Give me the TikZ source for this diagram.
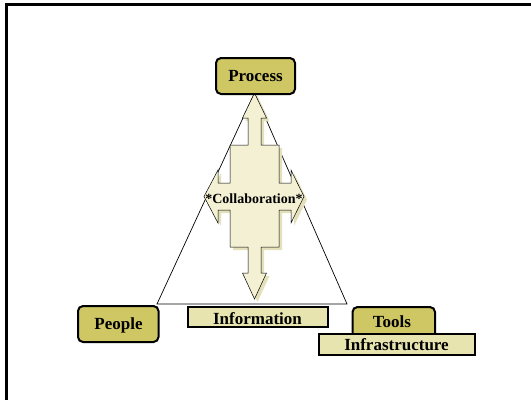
\documentclass[tikz,border=0pt]{standalone}
\usepackage{fontspec}
\setmainfont{Liberation Serif}
\begin{document}
\definecolor{olive}{RGB}{206,199,100}
\definecolor{paleolive}{RGB}{232,228,176}
\definecolor{cream}{RGB}{243,240,212}
\definecolor{creamshade}{RGB}{228,224,186}
\begin{tikzpicture}[x=1pt,y=-1pt,
  label/.style={font=\fontsize{17}{20}\selectfont\bfseries, inner sep=0pt},
  roundbox/.style={draw=black, line width=2pt, fill=olive, rounded corners=5pt},
  flatbox/.style={draw=black, line width=2pt, fill=paleolive},
  frameline/.style={line width=2.5pt, black},
  edge/.style={black, line width=0.7pt}]
\useasboundingbox (0,0) rectangle (531,400);

% outer frame (top and left rules)
\draw[frameline] (5,4.5) -- (531,4.5);
\draw[frameline] (6.5,3.5) -- (6.5,400);

% triangle corners
\coordinate (apex) at (254.5,93);
\coordinate (left) at (157,304);
\coordinate (right) at (347,304);
\draw[edge] (apex) -- (left) -- (right) -- cycle;

% four-way collaboration arrow
\def\crosspath{(254.5,93) -- (266.5,118) -- (261,118) -- (261,145) -- (279,145)
  -- (279,183) -- (291,183) -- (291,170) -- (304,196.5) -- (291,223) -- (291,210)
  -- (279,210) -- (279,247) -- (261,247) -- (261,273) -- (266.5,273) -- (254.5,299)
  -- (242.5,273) -- (248,273) -- (248,247) -- (230,247) -- (230,210) -- (218,210)
  -- (218,223) -- (204,196.5) -- (218,170) -- (218,183) -- (230,183) -- (230,145)
  -- (248,145) -- (248,118) -- (242.5,118) -- cycle}
\fill[creamshade, shift={(3,3)}] \crosspath;
\filldraw[fill=cream, draw=black, line width=0.5pt] \crosspath;
\node[font=\fontsize{14}{16}\selectfont\bfseries, inner sep=0pt] (collab) at (254,199) {*Collaboration*};

% labelled boxes
\draw[roundbox] (216,58) rectangle (295,94);
\node[label] (process) at (255.5,76.5) {Process};

\draw[roundbox] (78,306) rectangle (158.5,342);
\node[label] (people) at (118.5,325) {People};

\draw[flatbox] (187.5,307) rectangle (327.5,327);
\node[label] (information) at (257.5,319) {Information};

\draw[roundbox] (352.5,340) -- (352.5,307) -- (435,307) -- (435,340);
\node[label] (tools) at (392,322) {Tools};

\draw[flatbox] (318.5,333.5) rectangle (475,354.5);
\node[label] (infrastructure) at (396.5,345) {Infrastructure};
\end{tikzpicture}
\end{document}
